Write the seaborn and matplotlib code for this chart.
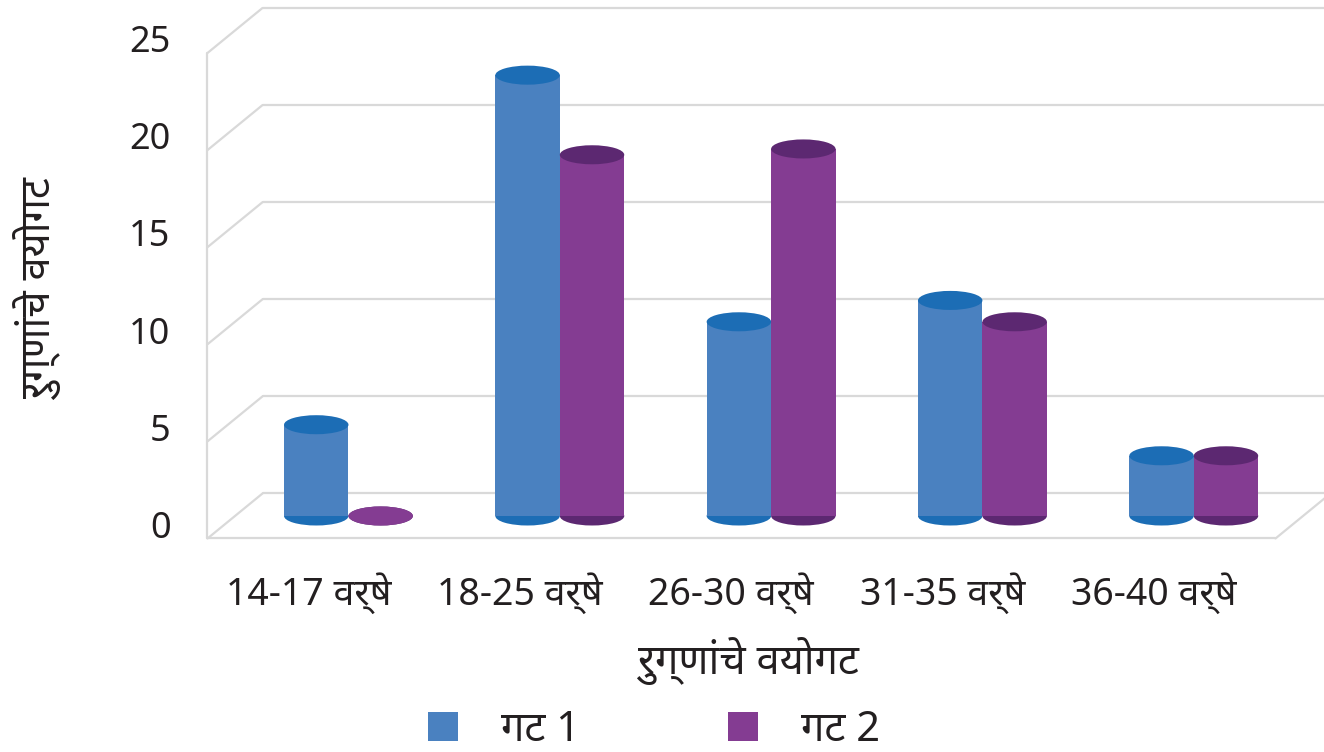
import pandas as pd
import matplotlib
matplotlib.use('Agg')
import matplotlib.pyplot as plt
from matplotlib.patches import Ellipse
from matplotlib import font_manager, ft2font
import seaborn as sns

# डेटा (चित्रावरून अंदाजे वाचलेले)
age_groups = ['14-17 वर्षे', '18-25 वर्षे', '26-30 वर्षे', '31-35 वर्षे', '36-40 वर्षे']
series = ['गट 1', 'गट 2']
gat1 = [4.7, 22.7, 10.0, 11.1, 3.1]
gat2 = [0.0, 18.6, 18.9, 10.0, 3.1]
y_ticks = [0, 5, 10, 15, 20, 25]
x_title = 'रुग्णांचे वयोगट'
y_title = 'रुग्णांचे वयोगट'

body_colors = ['#4a81c0', '#843c92']
top_colors = ['#1c6db5', '#5c2871']
grid_color = '#d9d9d9'
text_color = '#231f20'


# font with devanagari glyphs, if there is one
def devanagari_font():
    for f in font_manager.fontManager.ttflist:
        try:
            if 0x0917 in ft2font.FT2Font(f.fname).get_charmap():
                return f.name
        except Exception:
            continue
    return None


sns.set_theme(style='white')
dev = devanagari_font()
families = ['Noto Sans'] + ([dev] if dev else []) + ['DejaVu Sans']
plt.rcParams['font.family'] = families

df = pd.DataFrame({
    'group': age_groups * 2,
    'value': gat1 + gat2,
    'series': [series[0]] * len(age_groups) + [series[1]] * len(age_groups),
})

fig = plt.figure(figsize=(13.24, 7.52), dpi=100)
ax = fig.add_axes([235 / 1324, 0.2622, 1068 / 1324, 0.736])

sns.barplot(data=df, x='group', y='value', hue='series', hue_order=series,
            palette=body_colors, saturation=1, width=0.61, gap=0,
            linewidth=0, ax=ax)

xlim = (-0.537, 4.517)
ylim = (-2, 26.5)
ax.set_xlim(xlim)
ax.set_ylim(ylim)
ax.set_axis_off()

# 3d look: front/back edges shifted from the bar plane
dx = 27.5 / 211.3
dy = 22.5 / 19.42
ell_h = 0.98

for v in y_ticks:
    # back wall
    ax.plot([xlim[0] + dx, xlim[1] + dx], [v + dy, v + dy], color=grid_color,
            lw=1.6, zorder=0.5, clip_on=False)
    # side wall
    ax.plot([xlim[0] - dx, xlim[0] + dx], [v - dy, v + dy], color=grid_color,
            lw=1.6, zorder=0.5, clip_on=False)
    ax.text(xlim[0] - dx - 0.175, v - dy + 0.5, str(v), ha='right', va='center',
            fontsize=26, color=text_color)

ax.plot([xlim[0] - dx, xlim[0] - dx], [-dy, y_ticks[-1] - dy], color=grid_color,
        lw=1.6, zorder=0.5, clip_on=False)
ax.plot([xlim[0] - dx, xlim[1] - dx], [-dy, -dy], color=grid_color,
        lw=1.6, zorder=0.5, clip_on=False)
ax.plot([xlim[1] - dx, xlim[1] + dx], [-dy, dy], color=grid_color,
        lw=1.6, zorder=0.5, clip_on=False)

# cylinders: ellipse on top and bottom of every bar
for cont, body, top in zip(ax.containers, body_colors, top_colors):
    for p in cont.patches:
        cx = p.get_x() + p.get_width() / 2
        w = p.get_width()
        h = p.get_height()
        ax.add_patch(Ellipse((cx, 0), w, ell_h, color=top, lw=0, zorder=0.9))
        ax.add_patch(Ellipse((cx, h), w, ell_h, color=top if h > 0 else body,
                             lw=0, zorder=1.1))

for i, lab in enumerate(age_groups):
    ax.text(i - dx - 0.06, -dy - 2.8, lab, ha='center', va='center', fontsize=27,
            color=text_color)

fig.text(748 / 1324, 1 - 661 / 752, x_title, ha='center', va='center',
         fontsize=30, color=text_color)
fig.text(39 / 1324, 1 - 290 / 752, y_title, ha='center', va='center',
         rotation=90, fontsize=30, color=text_color)

sns.move_legend(ax, 'center', bbox_to_anchor=(0.494, 0.029),
                bbox_transform=fig.transFigure, ncol=2, frameon=False,
                title=None, fontsize=30, handlelength=0.72, handleheight=0.72,
                handletextpad=1.03, columnspacing=3.55, labelcolor=text_color)

fig.savefig('out.png', dpi=100)
